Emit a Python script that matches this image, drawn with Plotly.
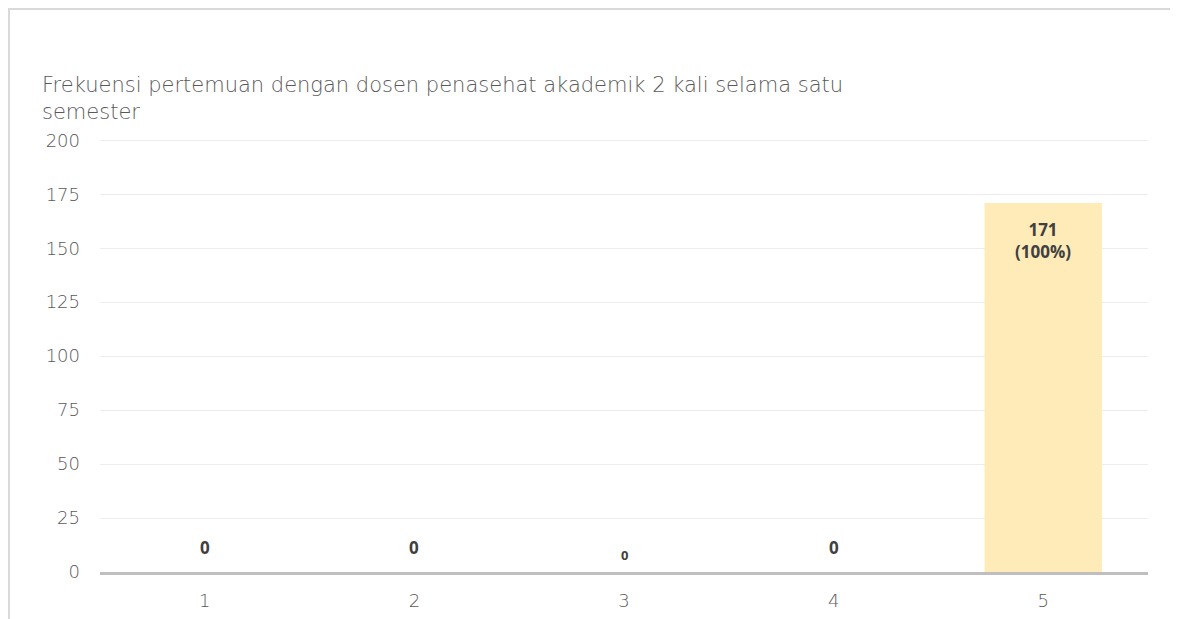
import plotly.graph_objects as go

# data
categories = ['1', '2', '3', '4', '5']
counts = [0, 0, 0, 0, 171]
label_text = ['0', '0', '0', '0', '171<br>(100%)']
label_size = [17, 17, 13, 17, 17]
y_ticks = [0, 25, 50, 75, 100, 125, 150, 175, 200]

title = 'Frekuensi pertemuan dengan dosen penasehat akademik 2 kali selama satu<br>semester'

fig = go.Figure()
fig.add_trace(go.Bar(x=categories, y=counts, marker=dict(color='#FEEBB8', line=dict(width=0)),
                     hoverinfo='x+y'))

# data labels (x by category index)
for i, (v, t, s) in enumerate(zip(counts, label_text, label_size)):
    if v > 0:
        fig.add_annotation(x=i, y=v, text='<b>' + t + '</b>', showarrow=False,
                           yanchor='top', yshift=-13, font=dict(family='Open Sans', size=s, color='#404040'))
    else:
        fig.add_annotation(x=i, y=v, text='<b>' + t + '</b>', showarrow=False,
                           yanchor='middle', yshift=25 if s > 13 else 17,
                           font=dict(family='Open Sans', size=s, color='#404040'))

# outer border
fig.add_shape(type='rect', xref='paper', yref='paper', x0=-0.0868, x1=1.0248, y0=-0.3, y1=1.3002,
              line=dict(color='#D9D9D9', width=2), layer='below')

fig.update_layout(
    width=1178, height=619,
    margin=dict(l=92, r=38, t=131, b=55),
    paper_bgcolor='white', plot_bgcolor='white',
    font=dict(family='DejaVu Sans', color='#595959'),
    title=dict(text=title, x=34 / 1178, xanchor='left', y=1 - 84 / 619, yanchor='top',
               font=dict(size=21, color='#595959', weight=300)),
    bargap=0.44,
    showlegend=False,
)
fig.update_xaxes(type='category', range=[-0.5, 4.5], showline=True, linecolor='#BFBFBF', linewidth=3,
                 ticks='', showgrid=False,
                 tickfont=dict(size=18, color='#595959', weight=300), ticklabelstandoff=10)
fig.update_yaxes(range=[0, 200.6], tickvals=y_ticks, showgrid=True, gridcolor='#EDEDED', gridwidth=1,
                 zeroline=False, showline=False, tickfont=dict(size=18, color='#595959', weight=300),
                 ticklabelstandoff=19)

fig.write_html('out.html')
